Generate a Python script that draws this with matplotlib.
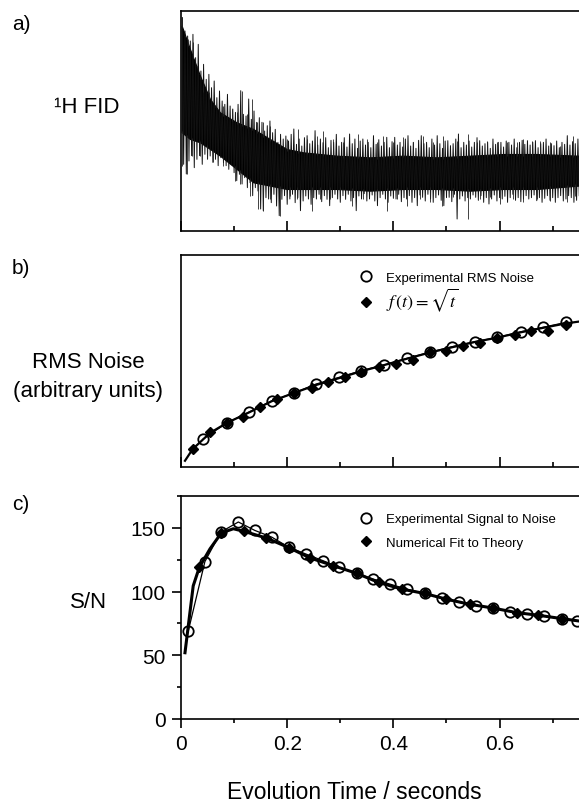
import matplotlib
matplotlib.use("Agg")
import matplotlib.pyplot as plt
from matplotlib.lines import Line2D
import numpy as np

plt.rcParams['font.family'] = ['Liberation Sans', 'DejaVu Sans']
plt.rcParams['mathtext.fontset'] = 'stix'

# ---------------- data ----------------
# a) FID (arbitrary amplitude units)
# dense core envelope
fid_core_t = [0.0013, 0.0169, 0.0358, 0.0546, 0.0734, 0.1048, 0.1362, 0.1676, 0.1990,
              0.2304, 0.2932, 0.3559, 0.4187, 0.4815, 0.5443, 0.6070, 0.6698, 0.7483]
fid_core_hi = [616, 546, 466, 396, 356, 326, 306, 276, 246, 236, 226, 221, 226, 221, 226, 231, 231, 226]
fid_core_lo = [296, 276, 266, 246, 226, 186, 146, 136, 126, 126, 126, 121, 126, 126, 121, 126, 126, 136]

fid_t0 = 0.0025
fid_dt = 0.005
fid_hi = [640, 600, 585, 570, 590, 520, 560, 480, 500, 455,
          470, 430, 450, 400, 420, 390, 380, 410, 375, 366,
          356, 380, 421, 350, 345, 396, 335, 360, 326, 340,
          326, 300, 316, 330, 295, 305, 266, 290, 276, 285,
          270, 290, 306, 260, 276, 255, 280, 286, 262, 270,
          301, 258, 276, 265, 280, 250, 272, 266, 290, 255,
          266, 280, 252, 291, 262, 276, 248, 270, 276, 258,
          266, 250, 286, 260, 274, 255, 266, 281, 250, 268,
          281, 258, 266, 252, 276, 286, 255, 266, 248, 272,
          286, 262, 266, 250, 276, 258, 286, 262, 248, 270,
          271, 256, 262, 276, 291, 250, 266, 258, 270, 252,
          266, 280, 271, 255, 262, 266, 248, 276, 260, 266,
          266, 252, 270, 266, 258, 276, 250, 266, 272, 260,
          271, 258, 266, 271, 250, 262, 266, 276, 255, 262,
          256, 270, 250, 266, 260, 286, 258, 268, 262, 276]
fid_lo = [200, 171, 210, 226, 190, 215, 226, 200, 230, 216,
          225, 206, 215, 196, 220, 205, 196, 185, 200, 175,
          151, 170, 141, 160, 130, 145, 106, 130, 120, 66,
          61, 100, 96, 85, 110, 75, 46, 95, 106, 80,
          96, 110, 85, 100, 61, 90, 105, 96, 80, 100,
          96, 110, 88, 106, 95, 76, 100, 110, 96, 86,
          106, 95, 110, 90, 100, 61, 105, 96, 112, 90,
          96, 108, 90, 76, 100, 110, 96, 86, 105, 98,
          96, 110, 88, 100, 96, 106, 86, 100, 76, 108,
          101, 90, 110, 96, 86, 100, 108, 92, 76, 100,
          101, 88, 110, 36, 96, 105, 90, 100, 96, 108,
          101, 92, 106, 86, 100, 81, 96, 108, 90, 100,
          96, 104, 86, 100, 110, 92, 100, 88, 96, 106,
          96, 100, 108, 91, 100, 86, 98, 106, 92, 100,
          86, 100, 106, 90, 96, 106, 100, 86, 92, 106]

# isolated large spikes
fid_up_t = [0.0013, 0.0075, 0.0138, 0.0220, 0.0295, 0.0358, 0.0421, 0.0534, 0.0640, 0.0797,
            0.0954, 0.1048, 0.1142, 0.1237, 0.1331, 0.1425, 0.1551, 0.1676, 0.1864, 0.1990,
            0.2197, 0.2367, 0.2555, 0.2680, 0.2869, 0.3057, 0.3340, 0.3497, 0.3685, 0.3810,
            0.3999, 0.4187, 0.4375, 0.4564, 0.4752, 0.4940, 0.5191, 0.5411, 0.5568, 0.5756,
            0.5945, 0.6133, 0.6321, 0.6447, 0.6604, 0.6761, 0.6949, 0.7137, 0.7389]
fid_up_a = [641, 586, 576, 566, 496, 456, 416, 416, 376, 376,
            366, 356, 421, 351, 396, 326, 326, 316, 266, 276,
            306, 276, 286, 301, 276, 266, 291, 276, 266, 286,
            266, 281, 266, 286, 266, 286, 271, 291, 266, 271,
            266, 266, 266, 276, 271, 271, 266, 256, 286]
fid_dn_t = [0.0013, 0.0107, 0.0201, 0.0358, 0.0483, 0.0609, 0.0797, 0.1017, 0.1111, 0.1299,
            0.1456, 0.1551, 0.1676, 0.1864, 0.2053, 0.2178, 0.2461, 0.2618, 0.2806, 0.2994,
            0.3214, 0.3434, 0.3685, 0.3873, 0.4062, 0.4250, 0.4501, 0.4689, 0.4909, 0.5129,
            0.5411, 0.5631, 0.5819, 0.6008, 0.6259, 0.6447, 0.6698, 0.6949, 0.7263, 0.7420]
fid_dn_a = [196, 171, 226, 226, 216, 206, 196, 151, 141, 106,
            66, 61, 96, 46, 106, 96, 61, 96, 96, 106,
            76, 96, 106, 61, 96, 76, 96, 86, 76, 101,
            36, 96, 101, 81, 96, 86, 96, 91, 86, 106]

# b) RMS noise (arbitrary units)
rms_exp_t = [0.042, 0.086, 0.129, 0.171, 0.213, 0.254, 0.298, 0.339, 0.382, 0.425,
             0.468, 0.510, 0.553, 0.596, 0.640, 0.682, 0.725]
rms_exp_v = [0.131, 0.206, 0.259, 0.311, 0.348, 0.390, 0.422, 0.453, 0.480, 0.511,
             0.540, 0.566, 0.590, 0.610, 0.637, 0.658, 0.681]
rms_fit_t = [0.022, 0.055, 0.086, 0.117, 0.149, 0.180, 0.213, 0.246, 0.277, 0.308,
             0.339, 0.372, 0.404, 0.436, 0.468, 0.499, 0.532, 0.563, 0.596, 0.629,
             0.660, 0.692, 0.725]
rms_fit_v = [0.083, 0.162, 0.206, 0.233, 0.280, 0.319, 0.348, 0.370, 0.401, 0.422,
             0.448, 0.469, 0.484, 0.505, 0.540, 0.547, 0.571, 0.583, 0.606, 0.621,
             0.642, 0.642, 0.668]
rms_curve_t = [0.0075, 0.022, 0.055, 0.086, 0.129, 0.171, 0.213, 0.254, 0.298, 0.339,
               0.382, 0.425, 0.468, 0.510, 0.553, 0.596, 0.640, 0.682, 0.725, 0.748]
rms_curve_v = [0.028, 0.083, 0.160, 0.206, 0.257, 0.309, 0.348, 0.385, 0.418, 0.450,
               0.479, 0.509, 0.538, 0.563, 0.588, 0.609, 0.634, 0.655, 0.676, 0.684]

# c) Signal to noise
sn_exp_t = [0.0137, 0.045, 0.075, 0.108, 0.139, 0.171, 0.203, 0.235, 0.267, 0.298,
            0.331, 0.362, 0.394, 0.425, 0.459, 0.491, 0.523, 0.556, 0.587, 0.620,
            0.651, 0.684, 0.717, 0.746]
sn_exp_v = [69, 123.5, 146.7, 154.6, 148, 142.7, 134.8, 129.5, 124.3, 119,
            114.3, 109.8, 105.8, 101.9, 98.5, 94.8, 91.6, 89, 87.1, 84.3,
            82.4, 80.8, 78.8, 76.9]
sn_fit_t = [0.0345, 0.076, 0.119, 0.161, 0.203, 0.243, 0.287, 0.331, 0.372, 0.416,
            0.459, 0.500, 0.544, 0.587, 0.632, 0.673, 0.717]
sn_fit_v = [119, 146, 147.2, 142, 134.5, 126.4, 120.3, 114.3, 107.2, 101.9,
            98.5, 94, 90, 87.1, 83.5, 81.4, 78.8]
sn_curve_t = [0.0075, 0.023, 0.0345, 0.0546, 0.076, 0.0986, 0.119, 0.161, 0.203, 0.243,
              0.287, 0.331, 0.372, 0.416, 0.459, 0.500, 0.544, 0.587, 0.632, 0.673,
              0.717, 0.748]
sn_curve_v = [52, 104.5, 119, 133.5, 146, 149.3, 147.2, 142, 134.5, 126.4,
              120.3, 114.3, 107.2, 101.9, 98.5, 94, 90, 87.1, 83.5, 81.4,
              78.8, 77]

x_major = [0, 0.2, 0.4, 0.6]
x_major_labels = ['0', '0.2', '0.4', '0.6']
x_minor = [0.1, 0.3, 0.5, 0.7]
y_major = [0, 50, 100, 150]
y_minor = [25, 75, 125, 175]

# ---------------- figure ----------------
W, H = 579, 804
fig = plt.figure(figsize=(W / 100, H / 100), dpi=100)

def rect(top, bottom):
    left = 181 / W
    width = 399.3 / W
    return [left, 1 - bottom / H, width, (bottom - top) / H]

XMAX = 0.752
SPW = 1.2

axa = fig.add_axes(rect(12, 232))
axb = fig.add_axes(rect(255.7, 467.7))
axc = fig.add_axes(rect(497, 720))

for ax in (axa, axb, axc):
    ax.set_xlim(0, XMAX)
    for s in ax.spines.values():
        s.set_linewidth(SPW)
    ax.set_xticks(x_major)
    ax.set_xticks(x_minor, minor=True)

# a) FID: a connected trace running through the max/min pairs
n = len(fid_hi)
t_hi = fid_t0 + fid_dt * np.arange(n)
t_lo = t_hi + fid_dt / 2
trace_t = np.column_stack([t_hi, t_lo]).ravel()
trace_a = np.column_stack([fid_hi, fid_lo]).ravel()
axa.fill_between(fid_core_t, fid_core_lo, fid_core_hi, color='black', lw=0.8)
axa.plot(trace_t, trace_a, color='#111111', lw=0.7)
up_base = np.interp(fid_up_t, fid_core_t, fid_core_hi)
dn_base = np.interp(fid_dn_t, fid_core_t, fid_core_lo)
axa.vlines(fid_up_t, up_base - 5, fid_up_a, color='#222222', lw=0.6)
axa.vlines(fid_dn_t, dn_base + 5, fid_dn_a, color='#222222', lw=0.6)
axa.set_ylim(0, 660)

# b) RMS noise
axb.plot(rms_curve_t, rms_curve_v, color='black', lw=1.6, zorder=2)
axb.plot(rms_exp_t, rms_exp_v, color='black', lw=0.8, zorder=2)
axb.plot(rms_exp_t, rms_exp_v, ls='none', marker='o', ms=7.5, mfc='none', mec='black', mew=1.3, zorder=3)
axb.plot(rms_fit_t, rms_fit_v, ls='none', marker='D', ms=5.5, mfc='black', mec='black', zorder=4)
axb.set_ylim(0, 1)

# c) S/N
axc.plot(sn_curve_t, sn_curve_v, color='black', lw=2.2, zorder=2)
axc.plot(sn_exp_t, sn_exp_v, color='black', lw=0.9, zorder=2)
axc.plot(sn_exp_t, sn_exp_v, ls='none', marker='o', ms=7.5, mfc='none', mec='black', mew=1.3, zorder=3)
axc.plot(sn_fit_t, sn_fit_v, ls='none', marker='D', ms=5.5, mfc='black', mec='black', zorder=4)
axc.set_ylim(0, 175)
axc.set_yticks(y_major)
axc.set_yticks(y_minor, minor=True)
axc.set_xticklabels(x_major_labels)

for ax in (axa, axb):
    ax.tick_params(axis='x', which='major', direction='in', length=7.5, width=SPW, labelbottom=False)
    ax.tick_params(axis='x', which='minor', direction='in', length=3.5, width=SPW)
    ax.set_yticks([])
axc.tick_params(axis='both', which='major', direction='out', length=6.5, width=SPW, labelsize=15, pad=4.5)
axc.tick_params(axis='both', which='minor', direction='out', length=3, width=SPW)

# legends
def handles(lab1, lab2):
    return [Line2D([], [], ls='none', marker='o', ms=7.5, mfc='none', mec='black', mew=1.3, label=lab1),
            Line2D([], [], ls='none', marker='D', ms=5.5, mfc='black', mec='black', label=lab2)]

axb.legend(handles=handles('Experimental RMS Noise', r'$f\,(t) = \sqrt{t}$'),
           loc='upper left', bbox_to_anchor=(0.448, 0.92), frameon=False, fontsize=9.5,
           handlelength=1.0, handletextpad=1.0, borderpad=0, borderaxespad=0, labelspacing=0.15)
leg_b = axb.get_legend()
leg_b.get_texts()[1].set_fontsize(13)

axc.legend(handles=handles('Experimental Signal to Noise', 'Numerical Fit to Theory'),
           loc='upper left', bbox_to_anchor=(0.448, 0.923), frameon=False, fontsize=9.5,
           handlelength=1.0, handletextpad=1.0, borderpad=0, borderaxespad=0, labelspacing=0.85)

# side labels
def ftext(x, y, s, size, **kw):
    fig.text(x / W, 1 - y / H, s, fontsize=size, va='center', **kw)

ftext(12, 25, 'a)', 15)
ftext(12, 269, 'b)', 15)
ftext(12, 505, 'c)', 15)
ftext(87, 108, '\u00b9H FID', 16, ha='center')
ftext(88, 363, 'RMS Noise', 16, ha='center')
ftext(88, 392, '(arbitrary units)', 16, ha='center')
ftext(89, 603, 'S/N', 16, ha='center')
ftext(354, 793, 'Evolution Time / seconds', 16.5, ha='center')

fig.savefig('out.png', dpi=100)
